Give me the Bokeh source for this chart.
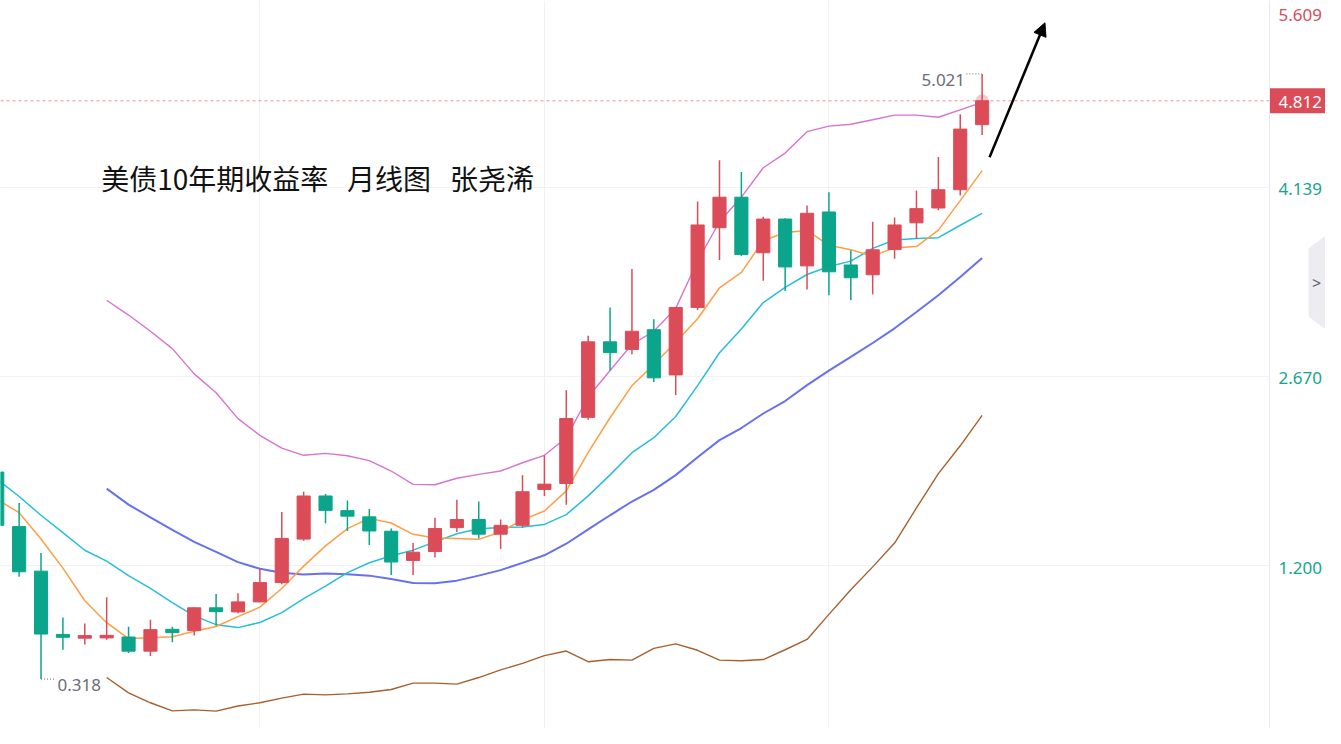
from bokeh.plotting import figure
from bokeh.models import (ColumnDataSource, Range1d, FixedTicker, Grid, Span,
                          Label, Arrow, NormalHead)
from bokeh.core.properties import value
from bokeh.embed import file_html
from bokeh.resources import INLINE

# ---------------- data (monthly candles, Jan 2020 .. Oct 2023) ----------------
months = ["2020-01", "2020-02", "2020-03", "2020-04", "2020-05", "2020-06", "2020-07", "2020-08",
          "2020-09", "2020-10", "2020-11", "2020-12", "2021-01", "2021-02", "2021-03", "2021-04",
          "2021-05", "2021-06", "2021-07", "2021-08", "2021-09", "2021-10", "2021-11", "2021-12",
          "2022-01", "2022-02", "2022-03", "2022-04", "2022-05", "2022-06", "2022-07", "2022-08",
          "2022-09", "2022-10", "2022-11", "2022-12", "2023-01", "2023-02", "2023-03", "2023-04",
          "2023-05", "2023-06", "2023-07", "2023-08", "2023-09", "2023-10"]

opens = [1.927, 1.503, 1.157, 0.665, 0.636, 0.638, 0.645, 0.535, 0.705, 0.695, 0.872, 0.840,
         0.918, 1.068, 1.406, 1.741, 1.627, 1.579, 1.467, 1.240, 1.309, 1.495, 1.558, 1.444,
         1.513, 1.792, 1.838, 2.352, 2.939, 2.880, 3.033, 2.682, 3.206, 3.826, 4.063, 3.631,
         3.893, 3.529, 3.948, 3.536, 3.460, 3.656, 3.864, 3.979, 4.121, 4.627]
highs = [1.940, 1.686, 1.297, 0.796, 0.750, 0.954, 0.725, 0.780, 0.725, 0.875, 0.979, 0.986,
         1.182, 1.617, 1.774, 1.757, 1.706, 1.640, 1.488, 1.375, 1.571, 1.711, 1.698, 1.558,
         1.902, 2.057, 2.563, 2.987, 3.206, 3.504, 3.114, 3.210, 4.030, 4.350, 4.259, 3.910,
         3.900, 3.999, 4.101, 3.651, 3.872, 3.906, 4.114, 4.375, 4.707, 5.021]
lows = [1.505, 1.114, 0.318, 0.546, 0.587, 0.623, 0.521, 0.498, 0.605, 0.656, 0.733, 0.829,
        0.915, 1.055, 1.393, 1.528, 1.469, 1.360, 1.126, 1.126, 1.263, 1.462, 1.411, 1.330,
        1.495, 1.741, 1.673, 2.334, 2.716, 2.842, 2.626, 2.525, 3.186, 3.575, 3.605, 3.414,
        3.333, 3.346, 3.300, 3.262, 3.308, 3.585, 3.740, 3.961, 4.076, 4.546]
closes = [1.513, 1.152, 0.668, 0.643, 0.656, 0.658, 0.535, 0.702, 0.679, 0.872, 0.842, 0.918,
          1.068, 1.411, 1.741, 1.629, 1.584, 1.469, 1.228, 1.304, 1.488, 1.558, 1.444, 1.513,
          1.774, 1.833, 2.343, 2.939, 2.855, 3.021, 2.659, 3.206, 3.847, 4.063, 3.618, 3.893,
          3.521, 3.938, 3.483, 3.437, 3.654, 3.847, 3.974, 4.121, 4.592, 4.812]

# moving averages
ma5 = [1.715, 1.611, 1.407, 1.180, 0.927, 0.756, 0.633, 0.639, 0.647, 0.690, 0.727, 0.803,
       0.877, 1.022, 1.196, 1.353, 1.487, 1.567, 1.531, 1.443, 1.415, 1.410, 1.404, 1.461,
       1.555, 1.624, 1.781, 2.080, 2.349, 2.598, 2.763, 2.936, 3.118, 3.359, 3.479, 3.725,
       3.788, 3.805, 3.689, 3.654, 3.605, 3.671, 3.679, 3.807, 4.036, 4.269]
ma10 = [1.871, 1.737, 1.591, 1.456, 1.319, 1.235, 1.122, 1.023, 0.913, 0.809, 0.741, 0.718,
        0.758, 0.835, 0.943, 1.040, 1.145, 1.222, 1.276, 1.320, 1.384, 1.448, 1.486, 1.496,
        1.499, 1.520, 1.596, 1.742, 1.905, 2.077, 2.194, 2.359, 2.599, 2.854, 3.038, 3.244,
        3.362, 3.462, 3.524, 3.566, 3.665, 3.730, 3.742, 3.748, 3.845, 3.937]
# Bollinger bands (visible from the 6th candle on)
boll_start = 5
boll_mid = [1.798, 1.674, 1.574, 1.477, 1.385, 1.306, 1.227, 1.175, 1.145, 1.131, 1.138, 1.133,
            1.122, 1.095, 1.064, 1.063, 1.083, 1.122, 1.165, 1.221, 1.280, 1.370, 1.482, 1.591,
            1.698, 1.789, 1.903, 2.042, 2.175, 2.269, 2.382, 2.479, 2.602, 2.715, 2.822, 2.930,
            3.044, 3.171, 3.301, 3.442, 3.591]
boll_upper = [3.262, 3.147, 3.021, 2.886, 2.690, 2.543, 2.342, 2.212, 2.113, 2.057, 2.072, 2.054,
              2.016, 1.935, 1.831, 1.828, 1.879, 1.909, 1.935, 1.999, 2.057, 2.194, 2.510, 2.716,
              2.919, 3.021, 3.199, 3.567, 3.872, 4.063, 4.292, 4.406, 4.572, 4.615, 4.630, 4.665,
              4.701, 4.701, 4.684, 4.742, 4.800]
boll_lower = [0.330, 0.211, 0.134, 0.071, 0.079, 0.069, 0.109, 0.134, 0.170, 0.201, 0.195, 0.203,
              0.216, 0.237, 0.287, 0.287, 0.279, 0.330, 0.389, 0.440, 0.500, 0.536, 0.453, 0.470,
              0.465, 0.557, 0.592, 0.542, 0.465, 0.460, 0.470, 0.546, 0.626, 0.821, 1.012, 1.190,
              1.375, 1.648, 1.915, 2.131, 2.367]

price_ticks = [1.200, 2.670, 4.139]
price_labels = ["1.200", "2.670", "4.139"]
axis_top_value = 5.609
time_grid_ticks = [12, 25, 38]
title_text = "美债10年期收益率\u00a0\u00a0\u00a0月线图\u00a0\u00a0\u00a0张尧浠"
arrow_start = (45.34, 4.373)
arrow_end = (47.87, 5.418)

# ---------------- style / layout ----------------
RED = "#DB4C58"
GREEN = "#0AA58A"
TEAL = "#13A68C"
GRAY = "#6A6D78"
GRID = "#F1F1F4"
FONT = "Noto Sans"

W, H = 1325, 728
CHART_W = 1269                      # width of the candle area, price scale to its right
X0, X_AXIS = 0.149, 58.13
PXX = CHART_W / (X_AXIS - X0)       # pixels per candle slot
X1 = X0 + W / PXX
Y0, Y1 = -0.066, 5.5915
PXY = H / (Y1 - Y0)                 # pixels per yield unit


def sx(px):
    return X0 + px / PXX


def sy(py):
    return Y1 - py / PXY


idx = list(range(len(opens)))
colors = [RED if c >= o else GREEN for o, c in zip(opens, closes)]
src = ColumnDataSource(dict(
    x=idx, o=opens, h=highs, l=lows, c=closes,
    top=[max(o, c) for o, c in zip(opens, closes)],
    bottom=[min(o, c) for o, c in zip(opens, closes)],
    color=colors,
))

p = figure(width=W, height=H, x_range=Range1d(X0, X1), y_range=Range1d(Y0, Y1),
           output_backend="svg", toolbar_location=None,
           x_axis_location=None, y_axis_location=None,
           min_border=0, background_fill_color="white", border_fill_color="white",
           outline_line_color=None)
p.grid.visible = False
p.add_layout(Grid(dimension=0, ticker=FixedTicker(ticks=time_grid_ticks),
                  grid_line_color=GRID, grid_line_width=1))
p.segment(x0=[X0] * len(price_ticks), y0=price_ticks, x1=[X_AXIS] * len(price_ticks),
          y1=price_ticks, line_color=GRID, line_width=1)

# price scale line
p.add_layout(Span(location=X_AXIS, dimension="height", line_color="#E8E8EE", line_width=1))

# last price dashed line
p.segment(x0=[X0], y0=[closes[-1]], x1=[X_AXIS], y1=[closes[-1]], line_color="#F08C96",
          line_dash="3 3", line_width=1)

# Bollinger bands and moving averages
bx = idx[boll_start:]
p.line(bx, boll_upper, line_color="#D873CE", line_width=1.4)
p.line(bx, boll_lower, line_color="#A6602F", line_width=1.4)
p.line(bx, boll_mid, line_color="#6670F0", line_width=2)
p.line(idx, ma10, line_color="#26BEDA", line_width=1.5)
p.line(idx, ma5, line_color="#FF9E45", line_width=1.5)

# candles
p.segment(x0="x", y0="l", x1="x", y1="h", line_color="color", line_width=1.5, source=src)
p.vbar(x="x", width=0.6, top="top", bottom="bottom", fill_color="color",
       line_color="color", line_width=1, source=src)

# glowing last price dot
p.scatter([idx[-1]], [closes[-1]], size=13, fill_color=RED, fill_alpha=0.3, line_color=None)

# low / high markers
lo = min(lows)
i_lo = lows.index(lo)
hi = max(highs)
i_hi = highs.index(hi)
p.segment(x0=[i_lo], y0=[lo], x1=[i_lo + 0.68], y1=[lo], line_color=GRAY,
          line_dash="1 2", line_width=1)
p.text(x=[i_lo + 0.75], y=[lo], text=[f"{lo:.3f}"], text_align="left", text_baseline="middle",
       y_offset=6, text_font=value(FONT), text_font_size="17px", text_color=GRAY)
p.segment(x0=[i_hi - 0.72], y0=[hi], x1=[i_hi], y1=[hi], line_color=GRAY,
          line_dash="1 2", line_width=1)
p.text(x=[i_hi - 0.78], y=[hi], text=[f"{hi:.3f}"], text_align="right", text_baseline="middle",
       y_offset=6, text_font=value(FONT), text_font_size="17px", text_color=GRAY)

# title
p.add_layout(Label(x=4.75, y=4.21, text=title_text, text_font="Noto Sans CJK SC",
                   text_font_size="28px", text_color="#111111", text_baseline="middle",
                   text_align="left"))

# arrow
p.add_layout(Arrow(end=NormalHead(size=13, fill_color="black", line_color="black"),
                   x_start=arrow_start[0], y_start=arrow_start[1],
                   x_end=arrow_end[0], y_end=arrow_end[1],
                   line_color="black", line_width=2.5))

# ---------------- price scale (right) ----------------
p.text(x=[X_AXIS] * len(price_ticks), y=price_ticks, text=price_labels, x_offset=9, y_offset=2,
       text_align="left", text_baseline="middle", text_font=value(FONT),
       text_font_size="17px", text_color=TEAL)
p.text(x=[X_AXIS], y=[Y1], text=[f"{axis_top_value:.3f}"], x_offset=9, y_offset=14,
       text_align="left", text_baseline="middle", text_font=value(FONT),
       text_font_size="17px", text_color=RED)
# last price tag
tag_half = 12.5 / PXY
p.quad(left=[X_AXIS], right=[X1], top=[closes[-1] + tag_half], bottom=[closes[-1] - tag_half],
       fill_color=RED, line_color=None)
p.text(x=[X_AXIS], y=[closes[-1]], text=[f"{closes[-1]:.3f}"], x_offset=9, y_offset=1,
       text_align="left", text_baseline="middle", text_font=value(FONT),
       text_font_size="17px", text_color="white")
# collapsed side-panel tab
tab_px = [(1325, 235), (1308, 248), (1308, 316), (1325, 329)]
p.patch([sx(a) for a, b in tab_px], [sy(b) for a, b in tab_px], fill_color="#EDEDF1",
        line_color=None)
p.text(x=[sx(1316)], y=[sy(282)], text=[">"], text_align="center", text_baseline="middle",
       text_font=value(FONT), text_font_size="16px", text_color="#5D606B")

open("out.html", "w").write(file_html(p, INLINE))
